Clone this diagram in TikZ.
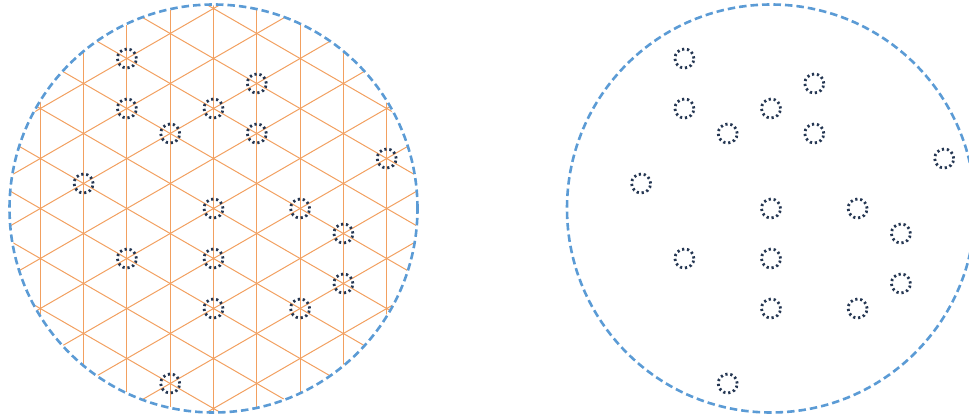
\documentclass[tikz,border=0pt]{standalone}
\usepackage{tikz}
\definecolor{rimblue}{HTML}{5B9BD5}
\definecolor{gridorange}{HTML}{F2A060}
\definecolor{dotnavy}{HTML}{243652}
\tikzset{
  rim/.style={draw=rimblue, line width=2.6pt, dash pattern=on 7.5pt off 4pt},
  gridline/.style={draw=gridorange, line width=1pt},
  site/.style={circle, minimum size=19pt, inner sep=0pt, draw=dotnavy, line width=2.8pt, dash pattern=on 2.2pt off 2.8pt},
}
\newcommand{\sitesat}[3]{% #1 prefix, #2 cx, #3 cy
  \foreach \i/\n [count=\c] in {-2/-6,-2/-4,-1/-3,0/-4,1/-5,1/-3,4/-2,-3/-1,0/0,2/0,3/1,-2/2,0/2,3/3,0/4,2/4,-1/7}{
    \node[site] (#1\c) at ({#2+43.3*\i pt},{#3-25*\n pt}) {};
  }
}
\begin{document}
\begin{tikzpicture}[x=1pt,y=1pt]
\useasboundingbox (0,0) rectangle (969,416);
% left panel: triangular grid clipped to the wafer
\begin{scope}
  \clip (213.5,207.5) circle (203);
  \foreach \i in {-5,...,5}{
    \draw[gridline] ({213.5+43.3*\i},0) -- ({213.5+43.3*\i},416);
  }
  \foreach \m in {-6,...,6}{
    \draw[gridline] ({213.5-240},{207.5+50*\m+138.56}) -- ({213.5+240},{207.5+50*\m-138.56});
    \draw[gridline] ({213.5-240},{207.5+50*\m-138.56}) -- ({213.5+240},{207.5+50*\m+138.56});
  }
\end{scope}
\node[circle, minimum size=408pt, inner sep=0pt, rim] (waferL) at (213.5,207.5) {};
\sitesat{L}{213.5}{207.5}
% right panel
\begin{scope}
  \clip (0,0) rectangle (969,416);
  \node[circle, minimum size=408pt, inner sep=0pt, rim] (waferR) at (771,207.5) {};
\end{scope}
\sitesat{R}{771}{207.5}
\end{tikzpicture}
\end{document}
